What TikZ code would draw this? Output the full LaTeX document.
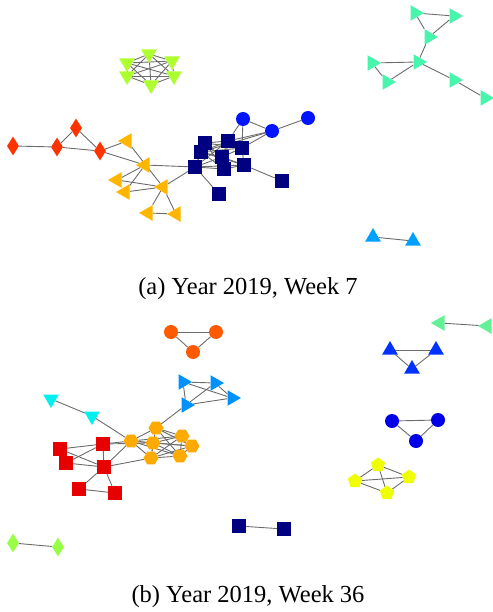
\documentclass[tikz,border=0pt]{standalone}
\usepackage{fontspec}
\setmainfont{Liberation Serif}
\usetikzlibrary{shapes.geometric, backgrounds}
\definecolor{redorange}{RGB}{255,51,0}
\definecolor{amber}{RGB}{255,182,0}
\definecolor{navyblue}{RGB}{0,0,128}
\definecolor{pureblue}{RGB}{0,20,255}
\definecolor{limegreen}{RGB}{173,255,47}
\definecolor{aquagreen}{RGB}{72,245,172}
\definecolor{skyblue}{RGB}{0,160,255}
\definecolor{darkorange}{RGB}{255,90,0}
\definecolor{royal}{RGB}{0,50,255}
\definecolor{mintgreen}{RGB}{100,240,150}
\definecolor{deepblue}{RGB}{0,0,230}
\definecolor{lemon}{RGB}{240,255,0}
\definecolor{aqua}{RGB}{0,240,240}
\definecolor{brightred}{RGB}{230,0,0}
\definecolor{gold}{RGB}{255,170,0}
\definecolor{azure}{RGB}{0,145,255}
\definecolor{pistachio}{RGB}{150,255,70}
\tikzset{
    vtx/.style={inner sep=0pt, draw=none},
    sq/.style={vtx, rectangle, minimum size=14pt},
    dot/.style={vtx, circle, minimum size=14pt},
    dia/.style={vtx, diamond, minimum width=12pt, minimum height=19pt},
    tri/.style={vtx, regular polygon, regular polygon sides=3, minimum size=18pt},
    triup/.style={tri},
    tridown/.style={tri, shape border rotate=180},
    trileft/.style={tri, shape border rotate=90},
    triright/.style={tri, shape border rotate=-90},
    pent/.style={vtx, regular polygon, regular polygon sides=5, minimum size=15pt},
    hexa/.style={vtx, regular polygon, regular polygon sides=6, minimum size=15pt},
    link/.style={gray!85!black, line width=0.9pt}
}

\begin{document}
\begin{tikzpicture}[x=1pt,y=-1pt]
    \useasboundingbox (0,0) rectangle (492,612);

    % ---------------- (a) Week 7 ----------------
    % Diamonds
    \foreach \n/\x/\y in {d1/13/146, d2/57/147, d3/76/128, d4/100/151}
        \node[dia, fill=redorange] (\n) at (\x,\y) {};

    % Left triangles
    \foreach \n/\x/\y in {t1/127/141, t2/145/165, t3/117/180, t4/125/192, t5/163/187, t6/148/213, t7/176/214}
        \node[trileft, fill=amber] (\n) at (\x,\y) {};

    % Squares
    \foreach \n/\x/\y in {s1/195/167, s2/205/143, s3/201/152, s4/228/141, s5/242/148, s6/222/157, s7/224/169, s8/244/165, s9/282/181, s10/219/194}
        \node[sq, fill=navyblue] (\n) at (\x,\y) {};

    % Circles
    \foreach \n/\x/\y in {c1/243/119, c2/272/131, c3/308/118}
        \node[dot, fill=pureblue] (\n) at (\x,\y) {};

    % Clique of down triangles
    \foreach \n/\x/\y in {g1/149/54, g2/127/63, g3/172/61, g4/127/76, g5/174/76, g6/151/85}
        \node[tridown, fill=limegreen] (\n) at (\x,\y) {};

    % Right triangles
    \foreach \n/\x/\y in {a1/415/13, a2/454/16, a3/429/37, a4/418/62, a5/372/63, a6/387/82, a7/454/80, a8/485/98}
        \node[triright, fill=aquagreen] (\n) at (\x,\y) {};

    % Up triangles
    \foreach \n/\x/\y in {b1/373/237, b2/413/241}
        \node[triup, fill=skyblue] (\n) at (\x,\y) {};

    \node[font=\fontsize{24.5}{28}\selectfont] (capa) at (248,289) {(a) Year 2019, Week 7};

    % ---------------- (b) Week 36 ----------------
    \foreach \n/\x/\y in {o1/171/332, o2/216/332, o3/193/352}
        \node[dot, fill=darkorange] (\n) at (\x,\y) {};

    \foreach \n/\x/\y in {u1/390/350, u2/436/350, u3/412/369}
        \node[triup, fill=royal] (\n) at (\x,\y) {};

    \foreach \n/\x/\y in {l1/440/323, l2/487/326}
        \node[trileft, fill=mintgreen] (\n) at (\x,\y) {};

    \foreach \n/\x/\y in {k1/392/421, k2/438/420, k3/416/441}
        \node[dot, fill=deepblue] (\n) at (\x,\y) {};

    \foreach \n/\x/\y in {p1/378/465, p2/355/481, p3/409/477, p4/387/493}
        \node[pent, fill=lemon] (\n) at (\x,\y) {};

    \foreach \n/\x/\y in {y1/51/399, y2/92/416}
        \node[tridown, fill=aqua] (\n) at (\x,\y) {};

    \foreach \n/\x/\y in {r1/60/449, r2/66/463, r3/103/444, r4/104/467, r5/79/489, r6/115/493}
        \node[sq, fill=brightred] (\n) at (\x,\y) {};

    \foreach \n/\x/\y in {h1/131/441, h2/156/428, h3/153/443, h4/151/458, h5/182/436, h6/192/446, h7/180/456}
        \node[hexa, fill=gold] (\n) at (\x,\y) {};

    \foreach \n/\x/\y in {e1/183/382, e2/215/383, e3/232/398, e4/186/405}
        \node[triright, fill=azure] (\n) at (\x,\y) {};

    \foreach \n/\x/\y in {q1/13/543, q2/58/547}
        \node[dia, fill=pistachio] (\n) at (\x,\y) {};

    \foreach \n/\x/\y in {n1/239/526, n2/284/529}
        \node[sq, fill=navyblue] (\n) at (\x,\y) {};

    \node[font=\fontsize{24.5}{28}\selectfont] (capb) at (248,597) {(b) Year 2019, Week 36};

    % Edges
    \begin{scope}[on background layer]
        \foreach \u/\v in {d1/d2, d2/d3, d2/d4, d3/d4, d4/t1, d4/t2,
                           t1/t5, t2/t3, t2/t4, t3/t5, t4/t5, t5/t6, t5/t7, t6/t7,
                           t2/s1, t5/s1, s1/s10, s8/s9,
                           c1/c2, c2/c3, c1/s4, c1/s5, c2/s4, c2/s3, c2/s5,
                           a1/a2, a1/a3, a2/a3, a3/a4, a4/a5, a4/a6, a5/a6, a4/a7, a7/a8,
                           b1/b2}
            \draw[link] (\u) -- (\v);
        % dense square cluster
        \foreach \u/\v in {s1/s2, s1/s3, s1/s4, s1/s6, s1/s7, s1/s8, s2/s3, s2/s4, s2/s5, s2/s6, s2/s7,
                           s3/s4, s3/s6, s3/s7, s3/s8, s4/s5, s4/s6, s4/s7, s5/s6, s5/s8, s6/s7, s6/s8, s7/s8, s3/s5}
            \draw[link] (\u) -- (\v);
        % down triangle clique
        \foreach \u in {1,...,6}
            \foreach \v in {1,...,6}
                {\ifnum\u<\v \draw[link] (g\u) -- (g\v); \fi}
        % week 36
        \foreach \u/\v in {o1/o2, o1/o3, o2/o3, u1/u2, u1/u3, u2/u3, l1/l2, k1/k2, k1/k3, k2/k3,
                           p1/p2, p1/p3, p1/p4, p2/p3, p2/p4, p3/p4,
                           y1/y2, y2/h1, r1/r3, r1/r4, r2/r3, r2/r4, r3/r4, r4/r5, r4/r6, r5/r6,
                           r3/h1, r4/h1, r4/h4, r3/h3,
                           e1/e2, e1/e3, e1/e4, e2/e3, e2/e4, e3/e4, e4/h2, q1/q2, n1/n2}
            \draw[link] (\u) -- (\v);
        % hexagon clique
        \foreach \u in {1,...,7}
            \foreach \v in {1,...,7}
                {\ifnum\u<\v \draw[link] (h\u) -- (h\v); \fi}
    \end{scope}
\end{tikzpicture}
\end{document}
